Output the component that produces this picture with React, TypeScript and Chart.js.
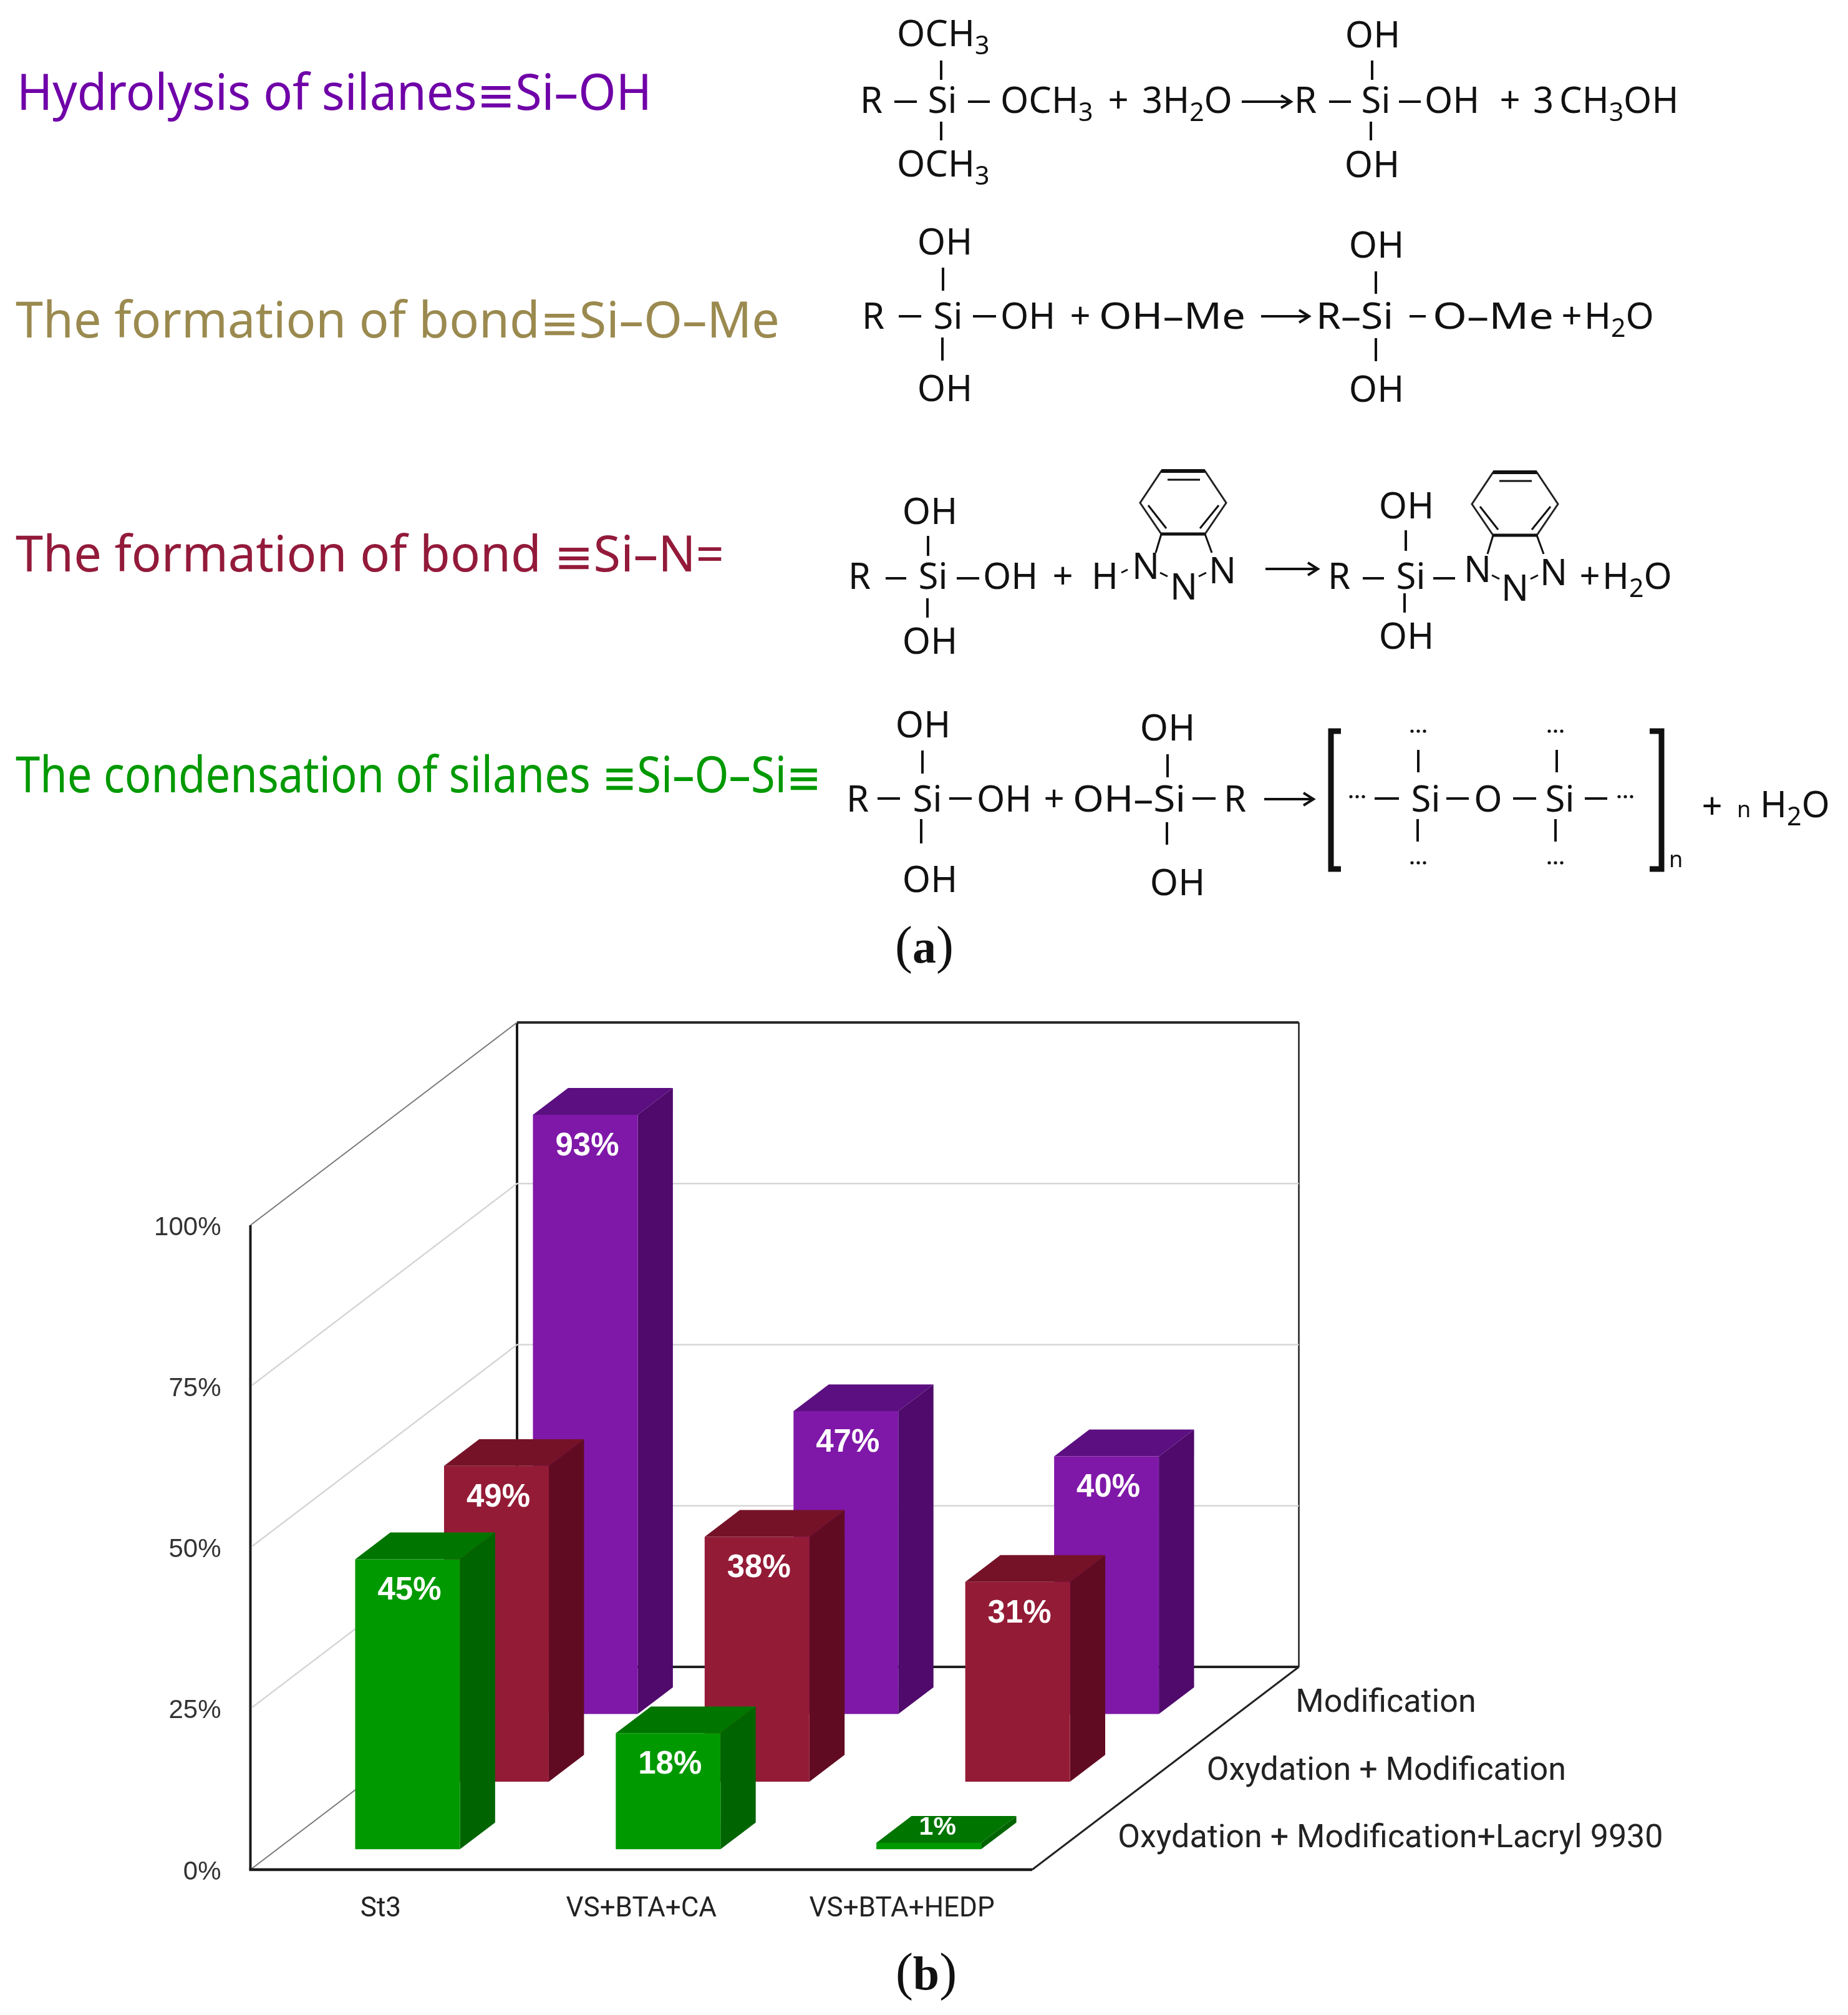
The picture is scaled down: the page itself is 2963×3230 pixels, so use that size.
import React, { useEffect, useRef } from "react";
import { Chart, registerables } from "chart.js";

Chart.register(...registerables);

const categories = ["St3", "VS+BTA+CA", "VS+BTA+HEDP"];
const rowNames = ["Oxydation + Modification+Lacryl 9930", "Oxydation + Modification", "Modification"];
const greenValues = [45, 18, 1];
const redValues = [49, 38, 31];
const purpleValues = [93, 47, 40];
const yTicks = [0, 25, 50, 75, 100];

const frontColors = ["#009900", "#941b36", "#7f18a8"];
const sideColors = ["#006400", "#610b22", "#4f0a6c"];
const topColors = ["#007500", "#751228", "#5b0f80"];

const DEPTH_X = 427.5;
const DEPTH_Y = -325;
const ROWS = 3;
const BAR_DEPTH = 0.396;
const SANS = "'Noto Sans', sans-serif";

function rowOffset(i: number) {
  const f = (i + (1 - BAR_DEPTH) / 2) / ROWS;
  return { dx: DEPTH_X * f, dy: DEPTH_Y * f };
}

const chart3d = {
  id: "chart3d",
  beforeDatasetsDraw(chart: any) {
    const { ctx, scales, chartArea } = chart;
    const { left, right } = chartArea;
    const y0 = scales.y.getPixelForValue(0);
    const y100 = scales.y.getPixelForValue(100);
    const line = (pts: number[][], color: string, w: number) => {
      ctx.beginPath();
      ctx.strokeStyle = color;
      ctx.lineWidth = w;
      pts.forEach((p, i) => (i ? ctx.lineTo(p[0], p[1]) : ctx.moveTo(p[0], p[1])));
      ctx.stroke();
    };
    ctx.save();
    ctx.lineCap = "butt";
    line([[left + DEPTH_X, y100 + DEPTH_Y], [right + DEPTH_X, y100 + DEPTH_Y]], "#2a2a2a", 4);
    line([[left + DEPTH_X, y100 + DEPTH_Y], [left + DEPTH_X, y0 + DEPTH_Y]], "#1a1a1a", 4);
    line([[left + DEPTH_X, y0 + DEPTH_Y], [right + DEPTH_X, y0 + DEPTH_Y]], "#222", 4);
    line([[right + DEPTH_X, y100 + DEPTH_Y], [right + DEPTH_X, y0 + DEPTH_Y]], "#222", 2.5);
    line([[left, y100], [left + DEPTH_X, y100 + DEPTH_Y]], "#777", 2);
    line([[left, y0], [left + DEPTH_X, y0 + DEPTH_Y]], "#777", 2);
    line([[left, y100], [left, y0]], "#1a1a1a", 4);
    [25, 50, 75].forEach((v) => {
      const y = scales.y.getPixelForValue(v);
      line([[left + 3, y - 2], [left + DEPTH_X, y + DEPTH_Y], [right + DEPTH_X, y + DEPTH_Y]], "#d6d6d6", 2.5);
    });
    line([[left - 2, y0], [right, y0]], "#1a1a1a", 4.5);
    line([[right, y0], [right + DEPTH_X, y0 + DEPTH_Y]], "#222", 3);
    ctx.fillStyle = "#222";
    ctx.font = `52px Roboto`;
    ctx.textAlign = "left";
    ctx.textBaseline = "middle";
    rowNames.forEach((name, i) => {
      const f = (i + 0.5) / ROWS;
      ctx.fillText(name, right + DEPTH_X * f + 66, y0 + DEPTH_Y * f + 5);
    });
    ctx.restore();
  },
  beforeDatasetDraw(chart: any, args: any) {
    const { ctx } = chart;
    const i = args.index;
    const { dx, dy } = rowOffset(i);
    const sx = (DEPTH_X * BAR_DEPTH) / ROWS;
    const sy = (DEPTH_Y * BAR_DEPTH) / ROWS;
    ctx.save();
    ctx.translate(dx, dy);
    args.meta.data.forEach((bar: any) => {
      const { x, y, width, base } = bar.getProps(["x", "y", "width", "base"], true);
      const l = x - width / 2;
      const r = x + width / 2;
      ctx.fillStyle = sideColors[i];
      ctx.beginPath();
      ctx.moveTo(r, base);
      ctx.lineTo(r + sx, base + sy);
      ctx.lineTo(r + sx, y + sy);
      ctx.lineTo(r, y);
      ctx.closePath();
      ctx.fill();
      ctx.fillStyle = topColors[i];
      ctx.beginPath();
      ctx.moveTo(l, y);
      ctx.lineTo(l + sx, y + sy);
      ctx.lineTo(r + sx, y + sy);
      ctx.lineTo(r, y);
      ctx.closePath();
      ctx.fill();
    });
  },
  afterDatasetDraw(chart: any, args: any) {
    const { ctx } = chart;
    const sx = (DEPTH_X * BAR_DEPTH) / ROWS;
    const sy = (DEPTH_Y * BAR_DEPTH) / ROWS;
    const values = chart.data.datasets[args.index].data;
    ctx.fillStyle = "#ffffff";
    ctx.textAlign = "center";
    ctx.textBaseline = "middle";
    args.meta.data.forEach((bar: any, k: number) => {
      const { x, y, base } = bar.getProps(["x", "y", "base"], true);
      const text = `${values[k]}%`;
      if (base - y < 60) {
        ctx.font = "bold 41px 'Liberation Sans'";
        ctx.fillText(text, x + sx / 4, y + sy / 2 - 3);
      } else {
        ctx.font = "bold 51px 'Liberation Sans'";
        ctx.fillText(text, x + 3, y + 51);
      }
    });
    ctx.restore();
  },
};

const FS = 58;
const T = ({ x, y, a = "start", s = FS, len, fill = "#111", children }: any) => (
  <text
    x={x}
    y={y}
    textAnchor={a}
    fontSize={s}
    fill={fill}
    {...(len ? { textLength: len, lengthAdjust: "spacingAndGlyphs" } : {})}
  >
    {children}
  </text>
);
const Sub = ({ children }: any) => (
  <>
    <tspan dy={13} fontSize={41}>{children}</tspan>
    <tspan dy={-13} fontSize={FS}>{"\u200b"}</tspan>
  </>
);
const Tri = () => (
  <>
    <tspan dy={3} fontSize={76} fontFamily="'DejaVu Sans'">≡</tspan>
    <tspan dy={-3} fontSize={80}>{"\u200b"}</tspan>
  </>
);
const B = ({ a, b, c, d, w = 4 }: any) => <line x1={a} y1={b} x2={c} y2={d} stroke="#111" strokeWidth={w} />;
const Arrow = ({ a, b, y }: any) => (
  <g fill="none" stroke="#111" strokeWidth={4}>
    <line x1={a} y1={y} x2={b} y2={y} />
    <polyline points={`${b - 16},${y - 10} ${b},${y} ${b - 16},${y + 10}`} />
  </g>
);
const Dots = ({ x, y }: any) => (
  <g fill="#111">
    <circle cx={x - 10} cy={y} r={2.6} />
    <circle cx={x} cy={y} r={2.6} />
    <circle cx={x + 10} cy={y} r={2.6} />
  </g>
);

function Benzotriazole({ ox, oy }: any) {
  const pts = [[0, 0], [70, 0], [104, 51], [70, 101], [0, 101], [-34, 51]]
    .map((p) => p.map((v, i) => v + (i ? oy : ox)).join(",")).join(" ");
  return (
    <g>
      <polygon points={pts} fill="none" stroke="#222" strokeWidth={3} />
      <B a={ox} b={oy} c={ox + 70} d={oy} w={6} />
      <B a={ox} b={oy + 101} c={ox + 70} d={oy + 101} w={5} />
      <B a={ox + 10} b={oy + 14} c={ox + 62} d={oy + 14} w={3} />
      <B a={ox - 21} b={oy + 55} c={ox + 8} d={oy + 92} w={3} />
      <B a={ox + 92} b={oy + 55} c={ox + 62} d={oy + 92} w={3} />
      <B a={ox} b={oy + 101} c={ox - 9} d={oy + 131} w={3} />
      <B a={ox + 70} b={oy + 101} c={ox + 81} d={oy + 131} w={3} />
    </g>
  );
}

function Scheme() {
  return (
    <svg
      width={2963}
      height={3230}
      style={{ position: "absolute", left: 0, top: 0, pointerEvents: "none" }}
      fontFamily={SANS}
    >
      <T x={27} y={176} s={80} len={1018} fill="#6f00a8">Hydrolysis of silanes<Tri />Si–OH</T>
      <T x={25} y={541} s={80} len={1225} fill="#9b8a4f">The formation of bond<Tri />Si–O–Me</T>
      <T x={25} y={916} s={80} len={1136} fill="#931a3a">The formation of bond <Tri />Si–N=</T>
      <T x={25} y={1270} s={80} len={1292} fill="#009900">The condensation of silanes <Tri />Si–O–Si<Tri /></T>

      {/* row 1 */}
      <T x={1438} y={74}>OCH<Sub>3</Sub></T>
      <B a={1509} b={97} c={1509} d={128} />
      <T x={1379} y={181}>R</T>
      <B a={1434} b={163} c={1470} d={163} />
      <T x={1511} y={181} a="middle">Si</T>
      <B a={1552} b={163} c={1587} d={163} />
      <T x={1604} y={181}>OCH<Sub>3</Sub></T>
      <T x={1793} y={181} a="middle">+</T>
      <T x={1831} y={181}>3H<Sub>2</Sub>O</T>
      <Arrow a={1991} b={2070} y={163} />
      <B a={1509} b={195} c={1509} d={225} />
      <T x={1438} y={283}>OCH<Sub>3</Sub></T>
      <T x={2201} y={76} a="middle">OH</T>
      <B a={2200} b={97} c={2200} d={128} />
      <T x={2075} y={181}>R</T>
      <B a={2131} b={163} c={2166} d={163} />
      <T x={2206} y={181} a="middle">Si</T>
      <B a={2243} b={163} c={2278} d={163} />
      <T x={2284} y={181}>OH</T>
      <T x={2421} y={181} a="middle">+</T>
      <T x={2458} y={181}>3</T>
      <T x={2500} y={181}>CH<Sub>3</Sub>OH</T>
      <B a={2198} b={195} c={2198} d={225} />
      <T x={2200} y={284} a="middle">OH</T>

      {/* row 2 */}
      <T x={1515} y={408} a="middle">OH</T>
      <B a={1512} b={429} c={1512} d={466} />
      <T x={1382} y={527}>R</T>
      <B a={1441} b={507} c={1477} d={507} />
      <T x={1520} y={527} a="middle">Si</T>
      <B a={1560} b={507} c={1597} d={507} />
      <T x={1604} y={527}>OH</T>
      <T x={1732} y={527} a="middle">+</T>
      <T x={1762} y={527} len={235}>OH–Me</T>
      <B a={1511} b={541} c={1511} d={578} />
      <T x={1515} y={643} a="middle">OH</T>
      <Arrow a={2022} b={2099} y={507} />
      <T x={2110} y={527} len={124}>R–Si</T>
      <B a={2260} b={507} c={2286} d={507} />
      <T x={2297} y={527} len={194}>O–Me</T>
      <T x={2520} y={527} a="middle">+</T>
      <T x={2540} y={527}>H<Sub>2</Sub>O</T>
      <T x={2207} y={413} a="middle">OH</T>
      <B a={2206} b={435} c={2206} d={471} />
      <B a={2206} b={542} c={2206} d={579} />
      <T x={2207} y={644} a="middle">OH</T>

      {/* row 3 */}
      <T x={1491} y={840} a="middle">OH</T>
      <B a={1488} b={859} c={1488} d={891} />
      <T x={1360} y={944}>R</T>
      <B a={1420} b={927} c={1453} d={927} />
      <T x={1496} y={944} a="middle">Si</T>
      <B a={1534} b={927} c={1570} d={927} />
      <T x={1576} y={944}>OH</T>
      <T x={1704} y={944} a="middle">+</T>
      <B a={1487} b={959} c={1487} d={990} />
      <T x={1491} y={1048} a="middle">OH</T>
      <T x={1750} y={944}>H</T>
      <T x={1837} y={928} a="middle">N</T>
      <T x={1898} y={961} a="middle">N</T>
      <T x={1960} y={935} a="middle">N</T>
      <B a={1798} b={918} c={1808} d={913} w={3} />
      <B a={1860} b={918} c={1872} d={924} w={3} />
      <B a={1922} b={924} c={1934} d={918} w={3} />
      <Benzotriazole ox={1862} oy={755} />
      <Arrow a={2029} b={2113} y={912} />
      <T x={2129} y={944}>R</T>
      <B a={2185} b={927} c={2219} d={927} />
      <T x={2262} y={944} a="middle">Si</T>
      <B a={2298} b={927} c={2333} d={927} />
      <T x={2255} y={831} a="middle">OH</T>
      <B a={2254} b={850} c={2254} d={883} />
      <B a={2252} b={951} c={2252} d={982} />
      <T x={2255} y={1040} a="middle">OH</T>
      <T x={2369} y={933} a="middle">N</T>
      <T x={2429} y={963} a="middle">N</T>
      <T x={2491} y={938} a="middle">N</T>
      <B a={2392} b={922} c={2404} d={928} w={3} />
      <B a={2454} b={928} c={2466} d={922} w={3} />
      <Benzotriazole ox={2394} oy={757} />
      <T x={2549} y={944} a="middle">+</T>
      <T x={2569} y={944}>H<Sub>2</Sub>O</T>

      {/* row 4 */}
      <T x={1480} y={1182} a="middle">OH</T>
      <B a={1479} b={1203} c={1479} d={1240} />
      <T x={1357} y={1301}>R</T>
      <B a={1407} b={1280} c={1443} d={1280} />
      <T x={1487} y={1301} a="middle">Si</T>
      <B a={1522} b={1280} c={1558} d={1280} />
      <T x={1566} y={1301}>OH</T>
      <T x={1690} y={1301} a="middle">+</T>
      <B a={1477} b={1313} c={1477} d={1352} />
      <T x={1491} y={1430} a="middle">OH</T>
      <T x={1720} y={1301} len={181}>OH–Si</T>
      <B a={1912} b={1280} c={1949} d={1280} />
      <T x={1962} y={1301}>R</T>
      <T x={1872} y={1187} a="middle">OH</T>
      <B a={1872} b={1209} c={1872} d={1246} />
      <B a={1871} b={1318} c={1871} d={1354} />
      <T x={1888} y={1435} a="middle">OH</T>
      <Arrow a={2027} b={2106} y={1281} />
      <path d="M2150 1172 H2134 V1393 H2150" fill="none" stroke="#111" strokeWidth={9} />
      <path d="M2645 1172 H2664 V1393 H2645" fill="none" stroke="#111" strokeWidth={9} />
      <Dots x={2176} y={1277} />
      <B a={2204} b={1280} c={2243} d={1280} />
      <T x={2286} y={1301} a="middle">Si</T>
      <B a={2319} b={1280} c={2355} d={1280} />
      <T x={2386} y={1301} a="middle">O</T>
      <B a={2426} b={1280} c={2463} d={1280} />
      <T x={2501} y={1301} a="middle">Si</T>
      <B a={2541} b={1280} c={2577} d={1280} />
      <Dots x={2606} y={1277} />
      <Dots x={2274} y={1172} />
      <B a={2274} b={1202} c={2274} d={1238} />
      <B a={2273} b={1313} c={2273} d={1349} />
      <Dots x={2274} y={1383} />
      <Dots x={2494} y={1172} />
      <B a={2496} b={1202} c={2496} d={1238} />
      <B a={2494} b={1313} c={2494} d={1349} />
      <Dots x={2494} y={1383} />
      <T x={2676} y={1390} s={36}>n</T>
      <T x={2745} y={1313} a="middle">+</T>
      <T x={2785} y={1310} s={36}>n</T>
      <T x={2822} y={1310}>H<Sub>2</Sub>O</T>

      <g fontFamily="'Liberation Serif', serif" fontSize={84} fill="#111" textAnchor="middle">
        <text x={1482} y={1543}>(<tspan fontWeight="bold" fontSize={76}>a</tspan>)</text>
        <text x={1485} y={3189}>(<tspan fontWeight="bold" fontSize={76}>b</tspan>)</text>
      </g>
    </svg>
  );
}

export default function App() {
  const ref = useRef<HTMLCanvasElement>(null);
  useEffect(() => {
    document.body.style.margin = "0";
    const chart = new Chart(ref.current!, {
      type: "bar",
      data: {
        labels: categories,
        datasets: [
          { label: rowNames[0], data: greenValues, backgroundColor: frontColors[0], clip: false as any },
          { label: rowNames[1], data: redValues, backgroundColor: frontColors[1], clip: false as any },
          { label: rowNames[2], data: purpleValues, backgroundColor: frontColors[2], clip: false as any },
        ],
      },
      plugins: [chart3d as any],
      options: {
        animation: false,
        responsive: false,
        devicePixelRatio: 1,
        layout: { padding: { top: 1964, right: 1308, bottom: 0, left: 0 } },
        datasets: { bar: { grouped: false, barPercentage: 0.402, categoryPercentage: 1, borderWidth: 0 } } as any,
        plugins: { legend: { display: false }, title: { display: false }, tooltip: { enabled: false } },
        scales: {
          x: {
            grid: { display: false, drawTicks: false },
            border: { display: false },
            ticks: { color: "#222", padding: 38, maxRotation: 0, autoSkip: false, font: { family: "Roboto", size: 44 } },
            afterFit: (s: any) => { s.height = 233; },
          },
          y: {
            min: yTicks[0],
            max: yTicks[yTicks.length - 1],
            grid: { display: false, drawTicks: false },
            border: { display: false },
            afterBuildTicks: (s: any) => { s.ticks = yTicks.map((value) => ({ value })); },
            ticks: {
              color: "#333",
              padding: 47,
              labelOffset: 4,
              autoSkip: false,
              font: { family: "'Liberation Sans'", size: 42 },
              callback: (v: any) => `${v}%`,
            },
            afterFit: (s: any) => { s.width = 401.5; },
          },
        },
      },
    });
    return () => chart.destroy();
  }, []);
  return (
    <div style={{ position: "relative", width: 2963, height: 3230, background: "#fff", overflow: "hidden" }}>
      <canvas ref={ref} width={2963} height={3230} style={{ display: "block" }} />
      <Scheme />
    </div>
  );
}
